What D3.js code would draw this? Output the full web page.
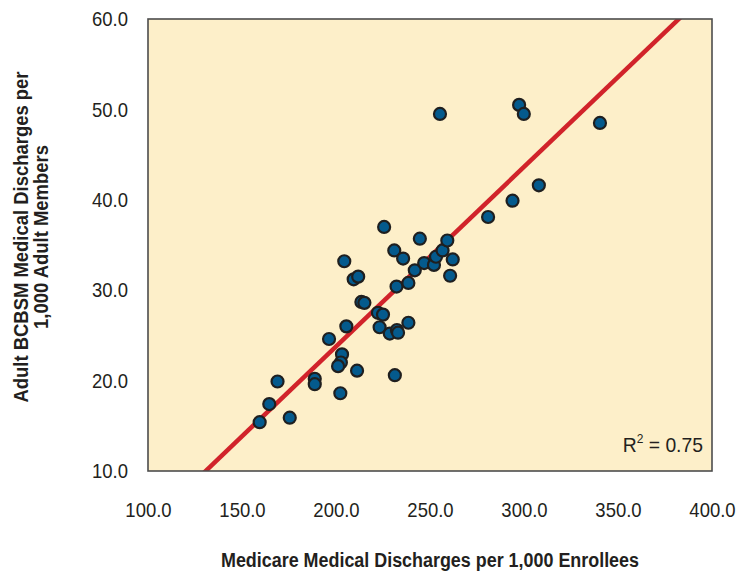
<!DOCTYPE html>
<html>
<head>
<meta charset="utf-8">
<script src="https://cdn.jsdelivr.net/npm/d3@7"></script>
<style>
  html, body { margin: 0; padding: 0; background: #fff; }
  #chart { width: 739px; height: 573px; }
  text { font-family: "Liberation Sans", Arial, sans-serif; fill: #231f20; }
</style>
</head>
<body>
<div id="chart"></div>
<script>
// Medicare discharges (x) vs adult BCBSM discharges (y), per 1,000
const medicare = [
  159.4, 164.5, 168.9, 175.4, 188.7, 188.7, 196.3, 203.2, 202.6, 201.1,
  211.2, 202.3, 205.5, 204.4, 209.4, 211.8, 213.5, 215.1, 222.3, 225.0,
  223.2, 228.6, 232.4, 233.0, 231.3, 231.0, 232.2, 225.6, 235.7, 238.5,
  238.5, 241.9, 244.6, 246.9, 252.1, 253.2, 256.7, 259.2, 262.1, 260.7,
  255.3, 280.9, 293.9, 307.9, 297.4, 299.9, 340.4
];
const bcbsm = [
  15.4, 17.4, 19.9, 15.9, 20.2, 19.6, 24.6, 22.9, 22.0, 21.6,
  21.1, 18.6, 26.0, 33.2, 31.2, 31.5, 28.7, 28.6, 27.5, 27.3,
  25.9, 25.2, 25.6, 25.3, 20.6, 34.4, 30.4, 37.0, 33.5, 26.4,
  30.8, 32.2, 35.7, 33.0, 32.8, 33.7, 34.4, 35.5, 33.4, 31.6,
  49.5, 38.1, 39.9, 41.6, 50.5, 49.5, 48.5
];
const xTicks = [100, 150, 200, 250, 300, 350, 400];
const yTicks = [10, 20, 30, 40, 50, 60];
// fitted trend line: y = slope * x + intercept
const trendSlope = 0.1987;
const trendIntercept = -15.97;
const rSquared = "0.75";

(() => {
  const width = 739, height = 573;
  const margin = { top: 19, right: 27, bottom: 102, left: 148 };
  const w = width - margin.left - margin.right;
  const h = height - margin.top - margin.bottom;

  // the original uses a condensed face; squeeze the text horizontally
  const condense = (sel, k) => sel.each(function () {
    const len = this.getComputedTextLength();
    d3.select(this).attr("textLength", len * k).attr("lengthAdjust", "spacingAndGlyphs");
  });

  const svg = d3.select("#chart").append("svg")
    .attr("width", width).attr("height", height);

  const g = svg.append("g").attr("transform", `translate(${margin.left},${margin.top})`);

  const x = d3.scaleLinear().domain([100, 400]).range([0, w]);
  const y = d3.scaleLinear().domain([10, 60]).range([h, 0]);

  g.append("defs").append("clipPath").attr("id", "plotClip")
    .append("rect").attr("width", w).attr("height", h);

  // plot background
  g.append("rect")
    .attr("width", w).attr("height", h)
    .attr("fill", "#fdefc9");

  // tick labels only, no tick lines
  const xAxis = d3.axisBottom(x).tickValues(xTicks).tickFormat(d3.format(".1f")).tickSize(0).tickPadding(31);
  const yAxis = d3.axisLeft(y).tickValues(yTicks).tickFormat(d3.format(".1f")).tickSize(0).tickPadding(20);

  g.append("g")
    .attr("transform", `translate(0,${h})`)
    .call(xAxis)
    .call(a => a.select(".domain").remove())
    .call(a => a.selectAll("text").style("font-size", "21px").attr("fill", "#231f20").attr("font-family", null))
    .call(a => condense(a.selectAll("text"), 0.88));

  g.append("g")
    .call(yAxis)
    .call(a => a.select(".domain").remove())
    .call(a => a.selectAll("text").style("font-size", "21px").attr("fill", "#231f20").attr("font-family", null))
    .call(a => condense(a.selectAll("text"), 0.88));

  // trend line
  const [x0, x1] = x.domain();
  g.append("line")
    .attr("clip-path", "url(#plotClip)")
    .attr("x1", x(x0)).attr("y1", y(trendSlope * x0 + trendIntercept))
    .attr("x2", x(x1)).attr("y2", y(trendSlope * x1 + trendIntercept))
    .attr("stroke", "#d1232a")
    .attr("stroke-width", 4.5);

  // points
  const pts = medicare.map((v, i) => ({ mx: v, by: bcbsm[i] }));
  g.selectAll("circle.dot")
    .data(pts)
    .enter().append("circle")
    .attr("class", "dot")
    .attr("cx", d => x(d.mx))
    .attr("cy", d => y(d.by))
    .attr("r", 6)
    .attr("fill", "#045a8d")
    .attr("stroke", "#1f1f1f")
    .attr("stroke-width", 2.2);

  // frame
  g.append("rect")
    .attr("width", w).attr("height", h)
    .attr("fill", "none")
    .attr("stroke", "#4d4d4d")
    .attr("stroke-width", 1.6);

  // R squared
  const r2 = g.append("text")
    .attr("x", w - 9).attr("y", h - 19)
    .attr("text-anchor", "end")
    .style("font-size", "21px");
  r2.append("tspan").text("R");
  r2.append("tspan").attr("dy", -9).style("font-size", "13px").text("2");
  r2.append("tspan").attr("dy", 9).text(" = " + rSquared);
  condense(r2, 0.92);

  // axis titles
  const xt = svg.append("text")
    .attr("x", margin.left + w / 2).attr("y", 567)
    .attr("text-anchor", "middle")
    .style("font-size", "20px").style("font-weight", "bold")
    .text("Medicare Medical Discharges per 1,000 Enrollees");
  condense(xt, 418 / xt.node().getComputedTextLength());

  const yMid = margin.top + h / 2 - 8;
  const yt1 = svg.append("text")
    .attr("transform", `translate(28,${yMid}) rotate(-90)`)
    .attr("text-anchor", "middle")
    .style("font-size", "20px").style("font-weight", "bold")
    .text("Adult BCBSM Medical Discharges per");
  const k = 331 / yt1.node().getComputedTextLength();
  condense(yt1, k);
  const yt2 = svg.append("text")
    .attr("transform", `translate(48,${yMid}) rotate(-90)`)
    .attr("text-anchor", "middle")
    .style("font-size", "20px").style("font-weight", "bold")
    .text("1,000 Adult Members");
  condense(yt2, k);
})();
</script>
</body>
</html>
